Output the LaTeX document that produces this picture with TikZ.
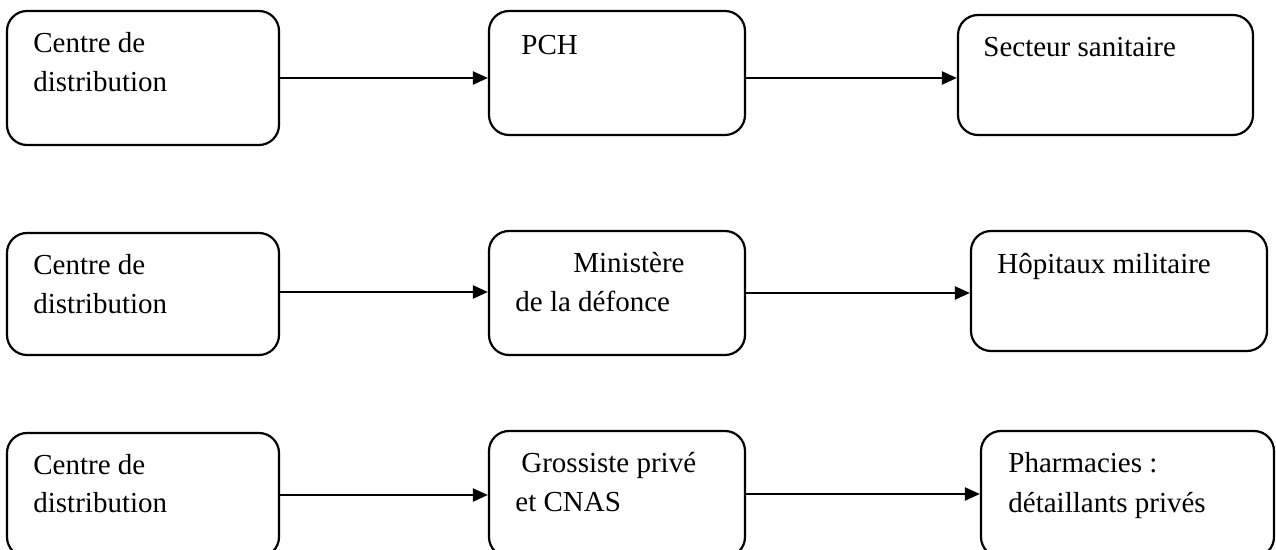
\documentclass[tikz,border=0pt]{standalone}
\usepackage{fontspec}
\setmainfont{Liberation Serif}
\usetikzlibrary{arrows.meta,fit}
\tikzset{
  box/.style={draw, line width=1.1pt, rounded corners=10pt, inner sep=0pt},
  lbl/.style={anchor=base west, inner sep=0pt, font=\fontsize{14.5}{17}\selectfont},
  flow/.style={line width=1.1pt, -{Triangle[length=7.5pt,width=6.5pt]}},
}
\begin{document}
\begin{tikzpicture}[x=0.5pt,y=-0.5pt]
\useasboundingbox (0,0) rectangle (1276,550);
\clip (0,0) rectangle (1276,550);

% first chain
\node[box, fit={(7,11) (279,145)}] (a1) {};
\node[box, fit={(489,11) (745,135)}] (b1) {};
\node[box, fit={(958,15) (1253,135)}] (c1) {};
\node[lbl] (ta1) at (33,53) {Centre de};
\node[lbl] (ua1) at (33,92) {distribution};
\node[lbl] (tb1) at (521,55) {PCH};
\node[lbl] (tc1) at (983,57) {Secteur sanitaire};
\draw[flow] (a1.east) -- (a1.east -| b1.west);
\draw[flow] ([yshift=-2.5pt]b1.east) -- ([yshift=-2.5pt]b1.east -| c1.west);

% second chain
\node[box, fit={(7,233) (279,355)}] (a2) {};
\node[box, fit={(489,231) (745,355)}] (b2) {};
\node[box, fit={(971,231) (1267,351)}] (c2) {};
\node[lbl] (ta2) at (33,275) {Centre de};
\node[lbl] (ua2) at (33,314) {distribution};
\node[lbl] (tb2) at (573,273) {Ministère};
\node[lbl] (ub2) at (515,312) {de la défonce};
\node[lbl] (tc2) at (997,274) {Hôpitaux militaire};
\draw[flow] ([yshift=1pt]a2.east) -- ([yshift=1pt]a2.east -| b2.west);
\draw[flow] (b2.east) -- (b2.east -| c2.west);

% third chain
\node[box, fit={(7,433) (279,557)}] (a3) {};
\node[box, fit={(489,431) (745,557)}] (b3) {};
\node[box, fit={(981,431) (1274,557)}] (c3) {};
\node[lbl] (ta3) at (33,475) {Centre de};
\node[lbl] (ua3) at (33,513) {distribution};
\node[lbl] (tb3) at (521,473) {Grossiste privé};
\node[lbl] (ub3) at (515,512) {et CNAS};
\node[lbl] (tc3) at (1008,473) {Pharmacies :};
\node[lbl] (uc3) at (1008,513) {détaillants privés};
\draw[flow] (a3.east) -- (a3.east -| b3.west);
\draw[flow] (b3.east) -- (b3.east -| c3.west);
\end{tikzpicture}
\end{document}
